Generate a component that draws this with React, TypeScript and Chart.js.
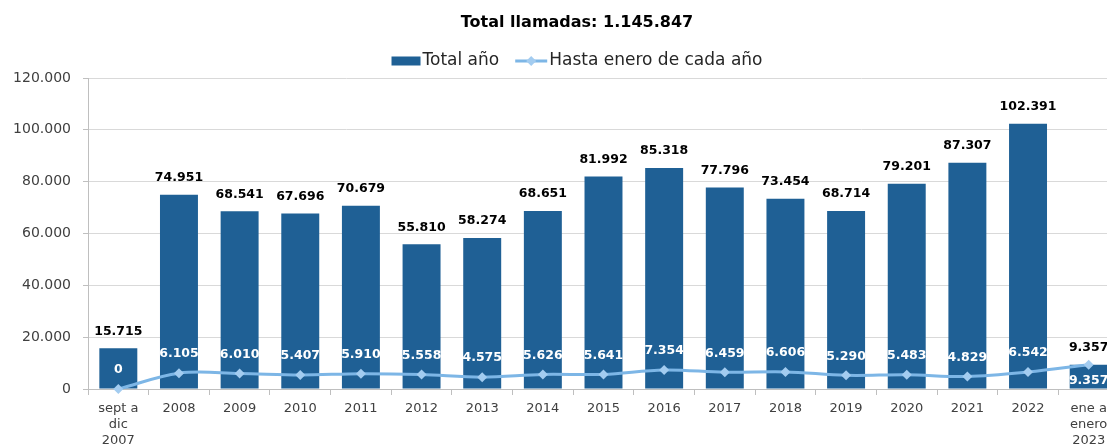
import { useEffect, useRef } from "react";
import { Chart, registerables } from "chart.js";

Chart.register(...registerables);

const categories: (string | string[])[] = [
  ["sept a", "dic", "2007"],
  "2008", "2009", "2010", "2011", "2012", "2013", "2014", "2015",
  "2016", "2017", "2018", "2019", "2020", "2021", "2022",
  ["ene a", "enero", "2023"],
];

const totalAnio = [
  15715, 74951, 68541, 67696, 70679, 55810, 58274, 68651, 81992,
  85318, 77796, 73454, 68714, 79201, 87307, 102391, 9357,
];

const hastaEnero = [
  0, 6105, 6010, 5407, 5910, 5558, 4575, 5626, 5641,
  7354, 6459, 6606, 5290, 5483, 4829, 6542, 9357,
];

const titleText = "Total llamadas: 1.145.847";
const legendLabels = ["Total año", "Hasta enero de cada año"];

const FONT = "'DejaVu Sans', sans-serif";
const BAR = "#1F6095";
const LINE = "#7DB6E6";
const POINT = "#A3CCF0";
const W = 1154;
const H = 480;

const fmt = (n: number) =>
  Math.round(n).toString().replace(/\B(?=(\d{3})+(?!\d))/g, ".");

const headerPlugin = {
  id: "header",
  afterDraw(chart: any) {
    const ctx = chart.ctx as CanvasRenderingContext2D;
    ctx.save();
    ctx.textBaseline = "middle";
    ctx.textAlign = "center";
    ctx.fillStyle = "#000";
    ctx.font = `bold 16px ${FONT}`;
    ctx.fillText(titleText, chart.width / 2, 23);

    ctx.font = `17px ${FONT}`;
    const w1 = ctx.measureText(legendLabels[0]).width;
    const w2 = ctx.measureText(legendLabels[1]).width;
    const boxW = 29, lineW = 32, gap = 2, sep = 16;
    const total = boxW + gap + w1 + sep + lineW + gap + w2;
    let x = chart.width / 2 - total / 2;
    const y = 61;
    ctx.fillStyle = BAR;
    ctx.fillRect(x, y - 4.5, boxW, 9);
    x += boxW + gap;
    ctx.textAlign = "left";
    ctx.fillStyle = "#262626";
    ctx.fillText(legendLabels[0], x, y);
    x += w1 + sep;
    ctx.strokeStyle = LINE;
    ctx.lineWidth = 3;
    ctx.beginPath();
    ctx.moveTo(x, y);
    ctx.lineTo(x + lineW, y);
    ctx.stroke();
    const cx = x + lineW / 2;
    ctx.fillStyle = POINT;
    ctx.beginPath();
    ctx.moveTo(cx, y - 5);
    ctx.lineTo(cx + 5, y);
    ctx.lineTo(cx, y + 5);
    ctx.lineTo(cx - 5, y);
    ctx.closePath();
    ctx.fill();
    x += lineW + gap;
    ctx.fillStyle = "#262626";
    ctx.fillText(legendLabels[1], x, y);
    ctx.restore();
  },
};

const labelsPlugin = {
  id: "valueLabels",
  afterDatasetsDraw(chart: any) {
    const ctx = chart.ctx as CanvasRenderingContext2D;
    ctx.save();
    ctx.font = `bold 12.5px ${FONT}`;
    ctx.textAlign = "center";
    ctx.textBaseline = "middle";
    const lineMeta = chart.getDatasetMeta(0);
    const barMeta = chart.getDatasetMeta(1);
    barMeta.data.forEach((el: any, i: number) => {
      ctx.fillStyle = "#000";
      ctx.fillText(fmt(totalAnio[i]), el.x, el.y - 17);
    });
    lineMeta.data.forEach((el: any, i: number) => {
      ctx.fillStyle = "#fff";
      const below = hastaEnero[i] >= totalAnio[i];
      ctx.fillText(fmt(hastaEnero[i]), el.x, below ? el.y + 16 : el.y - 19);
    });
    ctx.restore();
  },
};

export default function App() {
  const ref = useRef<HTMLCanvasElement | null>(null);
  useEffect(() => {
    if (!ref.current) return;
    const chart = new Chart(ref.current, {
      type: "bar",
      data: {
        labels: categories as any,
        datasets: [
          {
            type: "line",
            label: legendLabels[1],
            data: hastaEnero,
            borderColor: LINE,
            backgroundColor: POINT,
            borderWidth: 3,
            pointStyle: "rectRot",
            pointRadius: 5,
            pointBackgroundColor: POINT,
            pointBorderColor: POINT,
            pointBorderWidth: 0,
            tension: 0.35,
            order: 0,
            clip: false,
          } as any,
          {
            type: "bar",
            label: legendLabels[0],
            data: totalAnio,
            backgroundColor: BAR,
            barPercentage: 0.626,
            categoryPercentage: 1,
            order: 1,
          } as any,
        ],
      },
      options: {
        responsive: false,
        animation: false,
        devicePixelRatio: 1,
        layout: { padding: { top: 78, right: W - 1119, left: 0, bottom: 0 } },
        plugins: {
          legend: { display: false },
          title: { display: false },
          tooltip: { enabled: false },
        },
        scales: {
          x: {
            offset: true,
            grid: {
              display: true,
              offset: true,
              drawOnChartArea: false,
              drawTicks: true,
              tickLength: 6,
              color: "#bfbfbf",
              tickColor: "#bfbfbf",
            },
            border: { color: "#bfbfbf" },
            ticks: {
              color: "#404040",
              font: { family: FONT, size: 13, lineHeight: 16 / 13 },
              padding: 6,
              maxRotation: 0,
              autoSkip: false,
            },
            afterFit: (s: any) => {
              s.height = H - 389;
            },
          },
          y: {
            min: 0,
            max: 120000,
            ticks: {
              stepSize: 20000,
              callback: (v: any) => fmt(Number(v)),
              color: "#404040",
              font: { family: FONT, size: 14 },
              padding: 12,
            },
            grid: { color: "#d9d9d9", tickColor: "#bfbfbf", tickLength: 5 },
            border: { color: "#bfbfbf" },
            afterFit: (s: any) => {
              s.width = 88;
            },
          },
        },
      } as any,
      plugins: [headerPlugin, labelsPlugin],
    });
    return () => chart.destroy();
  }, []);

  return (
    <div
      style={{
        position: "fixed",
        left: 0,
        top: 0,
        width: 1107,
        height: 446,
        overflow: "hidden",
        background: "#fff",
      }}
    >
      <canvas
        ref={ref}
        width={W}
        height={H}
        style={{ display: "block", width: W, height: H }}
      />
    </div>
  );
}
